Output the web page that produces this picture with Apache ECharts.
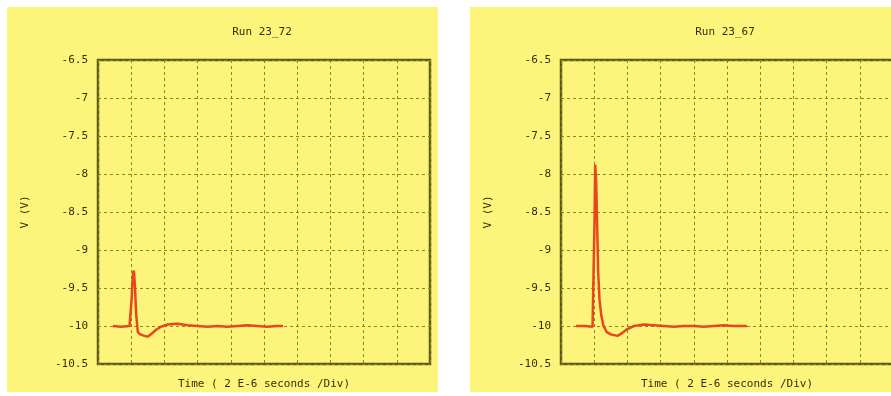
<!DOCTYPE html>
<html>
<head>
<meta charset="utf-8">
<script src="https://cdn.jsdelivr.net/npm/echarts@6/dist/echarts.min.js"></script>
<style>
  body { margin: 0; background: #fff; width: 891px; height: 396px; position: relative; overflow: hidden; }
  .panel { position: absolute; top: 7px; height: 385px; background: #fdf57b; }
</style>
</head>
<body>
<div id="left" class="panel" style="left:7px;width:431px;"></div>
<div id="right" class="panel" style="left:470px;width:421px;"></div>
<script>
// traces, x in divisions (2 E-6 s / div), y in volts
var run72 = [
  [0.45, -10], [0.7, -10.01], [0.95, -10], [1.0, -10], [1.02, -9.6], [1.05, -9.32],
  [1.08, -9.27], [1.11, -9.45], [1.15, -9.85], [1.2, -10.08], [1.27, -10.11],
  [1.4, -10.13], [1.5, -10.14], [1.62, -10.1], [1.75, -10.05], [1.9, -10.01],
  [2.1, -9.98], [2.4, -9.97], [2.7, -9.99], [3.0, -10.0], [3.3, -10.01], [3.6, -10.0],
  [3.9, -10.01], [4.2, -10.0], [4.5, -9.99], [4.8, -10.0], [5.1, -10.01], [5.4, -10.0], [5.57, -10.0]
];
var run67 = [
  [0.45, -10], [0.7, -10.0], [0.95, -10.01], [1.0, -10], [1.01, -8.6], [1.03, -7.88],
  [1.06, -8.1], [1.09, -8.7], [1.12, -9.3], [1.16, -9.65], [1.21, -9.85], [1.28, -10.0],
  [1.38, -10.08], [1.5, -10.11], [1.7, -10.13], [1.85, -10.09], [2.0, -10.04],
  [2.2, -10.0], [2.5, -9.98], [2.8, -9.99], [3.1, -10.0], [3.4, -10.01], [3.7, -10.0],
  [4.0, -10.0], [4.3, -10.01], [4.6, -10.0], [4.9, -9.99], [5.2, -10.0], [5.6, -10.0]
];
var titles = ['Run 23_72', 'Run 23_67'];

var ink = '#33300a';
var frame = '#5c5a14';
var gridCol = '#8a8628';
var font = 'DejaVu Sans Mono';

function makeOption(title, trace) {
  return {
    animation: false,
    title: {
      text: title, left: 250, top: 15, textAlign: 'center',
      textStyle: { fontFamily: font, fontSize: 11, fontWeight: 'normal', color: ink }
    },
    grid: {
      left: 91, top: 53, width: 332, height: 304, outerBoundsMode: 'none',
      show: true, borderColor: frame, borderWidth: 2.5
    },
    xAxis: {
      type: 'value', min: 0, max: 10, interval: 1,
      name: 'Time ( 2 E-6 seconds /Div)', nameLocation: 'middle', nameGap: 15,
      nameTextStyle: { fontFamily: font, fontSize: 11, color: ink },
      axisLine: { show: false },
      axisTick: { show: false },
      axisLabel: { show: false },
      splitLine: { show: true, lineStyle: { color: gridCol, width: 1, type: [3, 3] } }
    },
    yAxis: {
      type: 'value', min: -10.5, max: -6.5, interval: 0.5,
      name: 'V (V)', nameLocation: 'middle', nameGap: 67, nameRotate: 90,
      nameTextStyle: { fontFamily: font, fontSize: 11, color: ink },
      axisLine: { show: false },
      axisTick: { show: false },
      axisLabel: { fontFamily: font, fontSize: 11, color: ink, margin: 10 },
      splitLine: { show: true, lineStyle: { color: gridCol, width: 1, type: [3, 3] } }
    },
    series: [{
      type: 'line', data: trace, showSymbol: false, smooth: false,
      lineStyle: { color: '#e8461e', width: 2.5 }
    }]
  };
}

var chartL = echarts.init(document.getElementById('left'));
chartL.setOption(makeOption(titles[0], run72));
var chartR = echarts.init(document.getElementById('right'));
chartR.setOption(makeOption(titles[1], run67));
</script>
</body>
</html>
